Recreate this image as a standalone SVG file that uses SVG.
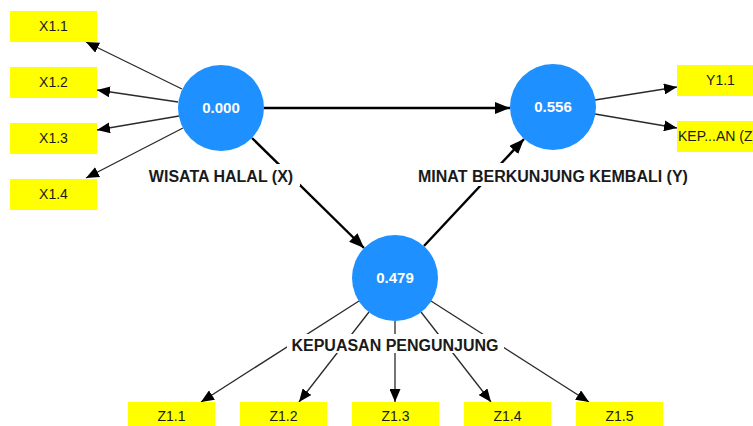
<svg xmlns="http://www.w3.org/2000/svg" width="753" height="426" viewBox="0 0 753 426">
<style>
.bg{fill:#ffffff}
.ind rect{fill:#ffff00}
.ind text{font-family:"Liberation Sans",Arial,sans-serif;font-size:14px;fill:#1a1a1a;text-anchor:middle}
.lat circle{fill:#1e90ff}
.lat .val{font-family:"Liberation Sans",Arial,sans-serif;font-size:15px;font-weight:bold;fill:#ffffff;text-anchor:middle}
.lat .lbl{font-family:"Liberation Sans",Arial,sans-serif;font-size:16px;font-weight:bold;fill:#1a1a1a;text-anchor:middle}
.lat .lblbg{fill:#ffffff}
.load{stroke:#2a2a2a;stroke-width:1.3;fill:none;marker-end:url(#ah)}
.path{stroke:#000000;stroke-width:2.4;fill:none;marker-end:url(#ahb)}
</style>
<defs>
<marker id="ah" markerUnits="userSpaceOnUse" markerWidth="13" markerHeight="11" refX="13" refY="5.5" orient="auto">
<path d="M0,0 L13,5.5 L0,11 z" fill="#000"/>
</marker>
<marker id="ahb" markerUnits="userSpaceOnUse" markerWidth="15" markerHeight="12" refX="15" refY="6" orient="auto">
<path d="M0,0 L15,6 L0,12 z" fill="#000"/>
</marker>
</defs>
<rect class="bg" x="0" y="0" width="753" height="426"/>
<g id="connectors">
<line class="load" x1="182" y1="89" x2="86" y2="42"/>
<line class="load" x1="178" y1="102" x2="97" y2="90"/>
<line class="load" x1="179" y1="116" x2="97" y2="130"/>
<line class="load" x1="183" y1="128" x2="86" y2="178"/>
<line class="load" x1="595" y1="100" x2="677" y2="87"/>
<line class="load" x1="595" y1="114" x2="677" y2="128"/>
<line class="load" x1="359" y1="301" x2="201" y2="402"/>
<line class="load" x1="369" y1="312" x2="299" y2="402"/>
<line class="load" x1="395" y1="321" x2="395" y2="402"/>
<line class="load" x1="421" y1="312" x2="491" y2="402"/>
<line class="load" x1="431" y1="301" x2="589" y2="402"/>
<line class="path" x1="264" y1="108" x2="510" y2="108"/>
<line class="path" x1="252" y1="138" x2="364" y2="248"/>
<line class="path" x1="424" y1="246" x2="524" y2="139"/>
</g>
<g id="X1.1" class="ind"><rect x="10" y="11" width="87" height="31"/><text x="53.5" y="31">X1.1</text></g>
<g id="X1.2" class="ind"><rect x="10" y="67" width="87" height="31"/><text x="53.5" y="87">X1.2</text></g>
<g id="X1.3" class="ind"><rect x="10" y="123" width="87" height="31"/><text x="53.5" y="143">X1.3</text></g>
<g id="X1.4" class="ind"><rect x="10" y="179" width="87" height="31"/><text x="53.5" y="199">X1.4</text></g>
<g id="Y1.1" class="ind"><rect x="677" y="65" width="87" height="31"/><text x="720.5" y="85">Y1.1</text></g>
<g id="KEP" class="ind"><rect x="677" y="121" width="87" height="31"/><text x="678" y="141" style="text-anchor:start">KEP...AN (Z)</text></g>
<g id="Z1.1" class="ind"><rect x="128" y="402" width="87" height="31"/><text x="171.5" y="421">Z1.1</text></g>
<g id="Z1.2" class="ind"><rect x="240" y="402" width="87" height="31"/><text x="283.5" y="421">Z1.2</text></g>
<g id="Z1.3" class="ind"><rect x="352" y="402" width="87" height="31"/><text x="395.5" y="421">Z1.3</text></g>
<g id="Z1.4" class="ind"><rect x="464" y="402" width="87" height="31"/><text x="507.5" y="421">Z1.4</text></g>
<g id="Z1.5" class="ind"><rect x="576" y="402" width="87" height="31"/><text x="619.5" y="421">Z1.5</text></g>
<g id="X" class="lat">
<circle cx="221" cy="108" r="43"/>
<text class="val" x="221" y="113">0.000</text>
<rect class="lblbg" x="143" y="164" width="157" height="22"/>
<text class="lbl" x="221" y="182">WISATA HALAL (X)</text>
</g>
<g id="Y" class="lat">
<circle cx="553" cy="107" r="43"/>
<text class="val" x="553" y="112">0.556</text>
<rect class="lblbg" x="413" y="163" width="280" height="23"/>
<text class="lbl" x="553" y="182">MINAT BERKUNJUNG KEMBALI (Y)</text>
</g>
<g id="Z" class="lat">
<circle cx="395" cy="278" r="43"/>
<text class="val" x="395" y="283">0.479</text>
<rect class="lblbg" x="287" y="334" width="217" height="19"/>
<text class="lbl" x="395" y="351">KEPUASAN PENGUNJUNG</text>
</g>
</svg>
